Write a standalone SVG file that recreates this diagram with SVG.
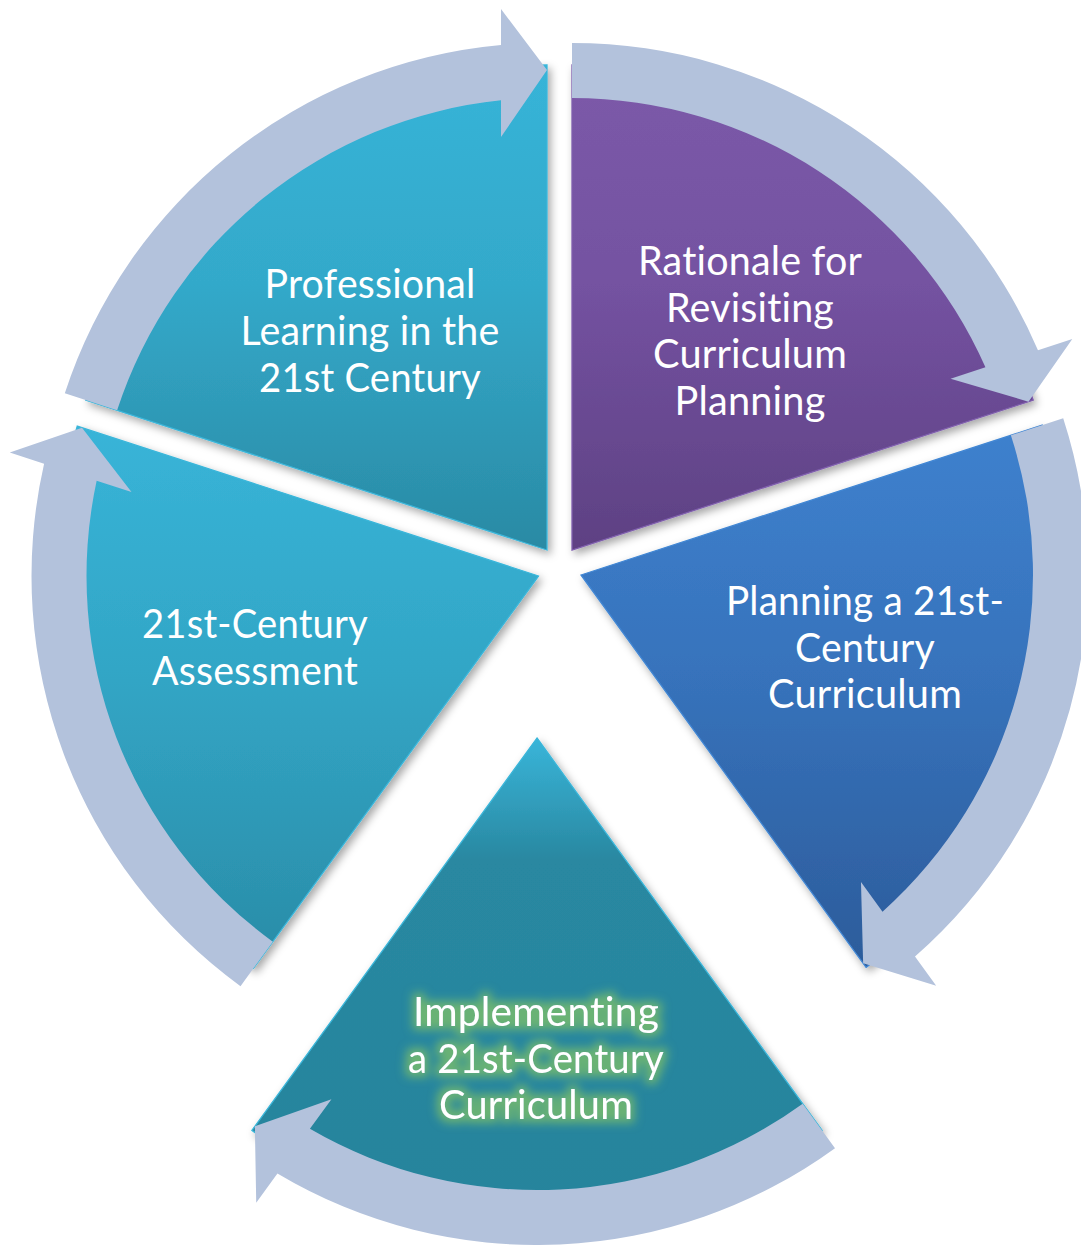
<svg xmlns="http://www.w3.org/2000/svg" width="1081" height="1245" viewBox="0 0 1081 1245">
<style>
.lbl{font-family:Lato,"Liberation Sans",sans-serif;font-size:40px;fill:#ffffff;text-anchor:middle;font-variant-ligatures:none;font-feature-settings:"liga" 0,"clig" 0,"dlig" 0;letter-spacing:0.2px}
.arrow{fill:#B3C2DC}
.slice{filter:url(#shadow);stroke-width:1.3}
</style>
<defs>
<filter id="shadow" x="-10%" y="-10%" width="125%" height="125%">
<feDropShadow dx="3" dy="4" stdDeviation="4" flood-color="#000" flood-opacity="0.35"/>
</filter>
<filter id="glow" x="-20%" y="-40%" width="140%" height="180%">
<feMorphology in="SourceAlpha" operator="dilate" radius="3.5" result="d"/>
<feGaussianBlur in="d" stdDeviation="5" result="b"/>
<feFlood flood-color="#8FCB5E" flood-opacity="0.65"/>
<feComposite in2="b" operator="in" result="g"/>
<feMerge><feMergeNode in="g"/><feMergeNode in="SourceGraphic"/></feMerge>
</filter>
<linearGradient id="gTL" gradientUnits="userSpaceOnUse" x1="0" y1="65" x2="0" y2="550">
<stop offset="0" stop-color="#37B4D8"/><stop offset="0.45" stop-color="#33A9CA"/><stop offset="1" stop-color="#2A8AA4"/>
</linearGradient>
<linearGradient id="gP" gradientUnits="userSpaceOnUse" x1="0" y1="65" x2="0" y2="550">
<stop offset="0" stop-color="#7C5AA9"/><stop offset="0.45" stop-color="#7452A1"/><stop offset="1" stop-color="#5E4183"/>
</linearGradient>
<linearGradient id="gB" gradientUnits="userSpaceOnUse" x1="0" y1="425" x2="0" y2="967">
<stop offset="0" stop-color="#3E81CE"/><stop offset="0.45" stop-color="#3773BC"/><stop offset="1" stop-color="#2C5C9B"/>
</linearGradient>
<linearGradient id="gL" gradientUnits="userSpaceOnUse" x1="0" y1="426" x2="0" y2="968">
<stop offset="0" stop-color="#38B4D8"/><stop offset="0.45" stop-color="#32A6C6"/><stop offset="1" stop-color="#2A8CA7"/>
</linearGradient>
<linearGradient id="gBot" gradientUnits="userSpaceOnUse" x1="0" y1="738" x2="0" y2="1223">
<stop offset="0" stop-color="#39B5D9"/><stop offset="0.25" stop-color="#2988A1"/><stop offset="1" stop-color="#26849C"/>
</linearGradient>
<path id="arrowShape" d="M-482.19,-156.67 A507,507 0 0 1 -46,-504.91 L-46,-541 L0,-480 L-46,-413 L-46,-449.65 A452,452 0 0 0 -429.88,-139.68 Z"/>
</defs>
<rect width="1081" height="1245" fill="#ffffff"/>
<g id="nodes">
<g id="node-professional">
<path class="slice" d="M547,550 L85.74,400.13 A485,485 0 0 1 547,65 Z" fill="url(#gTL)" stroke="#3AB6DA"/>
<text class="lbl" x="370" y="298" textLength="211" lengthAdjust="spacingAndGlyphs">Professional</text>
<text class="lbl" x="370" y="345" textLength="259" lengthAdjust="spacingAndGlyphs">Learning in the</text>
<text class="lbl" x="370" y="392" textLength="222" lengthAdjust="spacingAndGlyphs">21st Century</text>
</g>
<g id="node-rationale">
<path class="slice" d="M572,550 L572,65 A485,485 0 0 1 1033.26,400.13 Z" fill="url(#gP)" stroke="#7F5EAD"/>
<text class="lbl" x="750" y="275" textLength="224" lengthAdjust="spacingAndGlyphs">Rationale for</text>
<text class="lbl" x="750" y="322" textLength="168" lengthAdjust="spacingAndGlyphs">Revisiting</text>
<text class="lbl" x="750" y="368" textLength="194" lengthAdjust="spacingAndGlyphs">Curriculum</text>
<text class="lbl" x="750" y="415" textLength="151" lengthAdjust="spacingAndGlyphs">Planning</text>
</g>
<g id="node-planning">
<path class="slice" d="M581,575 L1042.26,425.13 A485,485 0 0 1 866.08,967.37 Z" fill="url(#gB)" stroke="#4287D4"/>
<text class="lbl" x="865" y="615" textLength="278" lengthAdjust="spacingAndGlyphs">Planning a 21st-</text>
<text class="lbl" x="865" y="662" textLength="140" lengthAdjust="spacingAndGlyphs">Century</text>
<text class="lbl" x="865" y="708" textLength="194" lengthAdjust="spacingAndGlyphs">Curriculum</text>
</g>
<g id="node-implementing">
<path class="slice" d="M537,738 L822.08,1130.37 A485,485 0 0 1 251.92,1130.37 Z" fill="url(#gBot)" stroke="#3AB6DA"/>
<g filter="url(#glow)">
<text class="lbl" x="536" y="1026" textLength="246" lengthAdjust="spacingAndGlyphs">Implementing</text>
<text class="lbl" x="536" y="1073" textLength="256" lengthAdjust="spacingAndGlyphs">a 21st-Century</text>
<text class="lbl" x="536" y="1119" textLength="194" lengthAdjust="spacingAndGlyphs">Curriculum</text>
</g>
</g>
<g id="node-assessment">
<path class="slice" d="M538.5,576 L253.42,968.37 A485,485 0 0 1 77.24,426.13 Z" fill="url(#gL)" stroke="#3AB6DA"/>
<text class="lbl" x="255" y="638" textLength="226" lengthAdjust="spacingAndGlyphs">21st-Century</text>
<text class="lbl" x="255" y="685" textLength="206" lengthAdjust="spacingAndGlyphs">Assessment</text>
</g>
</g>
<g id="connectors">
<use class="arrow" href="#arrowShape" transform="translate(547,550)"/>
<use class="arrow" href="#arrowShape" transform="translate(572,550) rotate(72)"/>
<use class="arrow" href="#arrowShape" transform="translate(581,575) rotate(144)"/>
<use class="arrow" href="#arrowShape" transform="translate(537,738) rotate(216)"/>
<use class="arrow" href="#arrowShape" transform="translate(538.5,576) rotate(288)"/>
</g>
</svg>
